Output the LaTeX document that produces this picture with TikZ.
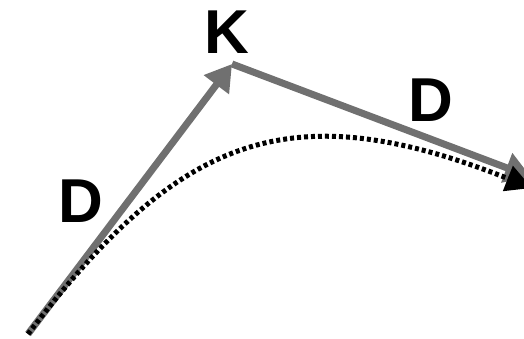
\documentclass[tikz,border=0pt]{standalone}
\usepackage{fontspec}
\setmainfont{Liberation Sans}
\usetikzlibrary{arrows.meta}
\definecolor{arrgray}{RGB}{112,112,112}
\tikzset{
  lbl/.style={font=\fontsize{62}{62}\selectfont\bfseries, inner sep=0pt, anchor=center},
  grayarrow/.style={draw=arrgray, line width=7pt, -{Triangle[length=26pt,width=30pt]}, shorten >=0pt},
  dotcurve/.style={draw=black, line width=5pt, dash pattern=on 4pt off 3pt, -{Triangle[length=26pt,width=26pt]}}
}
\begin{document}
\begin{tikzpicture}[x=1pt,y=-1pt]
\useasboundingbox (0,0) rectangle (524,339);
\coordinate (S) at (28,334);
\coordinate (K) at (232,64);
\coordinate (E) at (531,177);
\coordinate (F) at (532,188);
\draw[grayarrow] (S) -- (K);
\draw[grayarrow] (K) -- (E);
\draw[dotcurve] (S) .. controls (180,135) and (289,92) .. (F);
\node[lbl] (k) at (227,32) {K};
\node[lbl] (d1) at (81,201) {D};
\node[lbl] (d2) at (431,100) {D};
\end{tikzpicture}
\end{document}
